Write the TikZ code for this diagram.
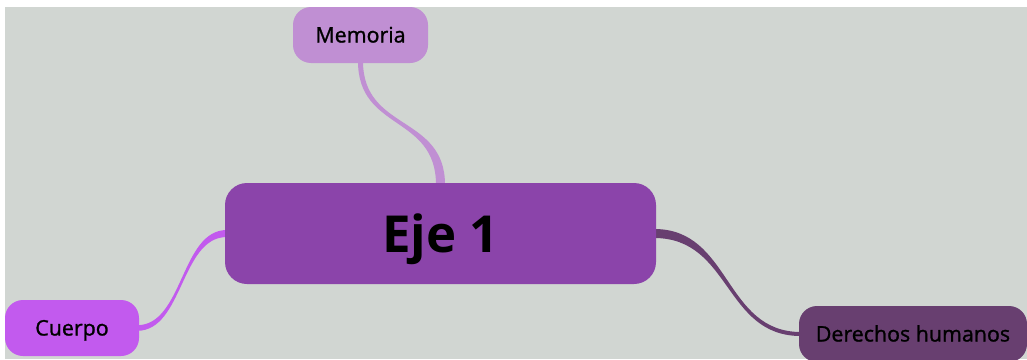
\documentclass[tikz,border=0pt]{standalone}
\usepackage{fontspec}
\setmainfont{Open Sans}
\newfontfamily\topicfont[FakeBold=1.2]{Open Sans}
\usetikzlibrary{calc}
\definecolor{bggray}{RGB}{209,214,210}
\definecolor{maincol}{RGB}{139,68,170}
\definecolor{memcol}{RGB}{192,143,211}
\definecolor{cucol}{RGB}{194,90,238}
\definecolor{dercol}{RGB}{104,63,112}
\pgfdeclarelayer{bg}
\pgfdeclarelayer{edges}
\pgfsetlayers{bg,edges,main}
\tikzset{
  topic/.style={rounded corners=18pt, inner sep=0pt, text=black,
    font=\topicfont\fontsize{21.4}{25}\selectfont, text height=15pt, text depth=0pt,
    minimum height=56pt},
  central/.style={rounded corners=22pt, inner sep=0pt, text=black, fill=maincol,
    font=\bfseries\fontsize{51}{60}\selectfont, text height=37pt, text depth=0pt,
    minimum width=431pt, minimum height=101pt}
}
\begin{document}
\begin{tikzpicture}[x=1pt,y=-1pt]
\useasboundingbox (0,0) rectangle (1027,359);
\begin{pgfonlayer}{bg}
  \fill[white] (0,0) rectangle (1027,359);
  \fill[bggray] (5,7) rectangle (1027,359);
\end{pgfonlayer}
\begin{scope}
\clip (5,7) rectangle (1027,359);
\node[central] (main) at (440.5,233.5) {Eje 1};
\node[topic, fill=memcol, minimum width=135pt] (mem) at (360.5,35) {Memoria};
\node[topic, fill=cucol, minimum width=134pt] (cu) at (72,328) {Cuerpo};
\node[topic, fill=dercol, minimum width=228pt] (der) at (913,334) {Derechos humanos};
\begin{pgfonlayer}{edges}
  \fill[memcol] ($(mem.south)+(-2.5,-2)$) .. controls ($(mem.south)+(-2.5,68)$) and ($(main.north)+(-4.5,-68)$) .. ($(main.north)+(-4.5,2)$)
     -- ($(main.north)+(4.5,2)$) .. controls ($(main.north)+(4.5,-68)$) and ($(mem.south)+(2.5,68)$) .. ($(mem.south)+(2.5,-2)$) -- cycle;
  \fill[cucol] ($(cu.east)+(-2,-2.8)$) .. controls ($(cu.east)+(44,-2.8)$) and ($(main.west)+(-44,-3.5)$) .. ($(main.west)+(2,-3.5)$)
     -- ($(main.west)+(2,3.5)$) .. controls ($(main.west)+(-44,3.5)$) and ($(cu.east)+(44,2.8)$) .. ($(cu.east)+(-2,2.8)$) -- cycle;
  \fill[dercol] ($(main.east)+(-2,-4.5)$) .. controls ($(main.east)+(75,-4.5)$) and ($(der.west)+(-75,-2)$) .. ($(der.west)+(2,-2)$)
     -- ($(der.west)+(2,2)$) .. controls ($(der.west)+(-75,2)$) and ($(main.east)+(75,4.5)$) .. ($(main.east)+(-2,4.5)$) -- cycle;
\end{pgfonlayer}
\end{scope}
\end{tikzpicture}
\end{document}
